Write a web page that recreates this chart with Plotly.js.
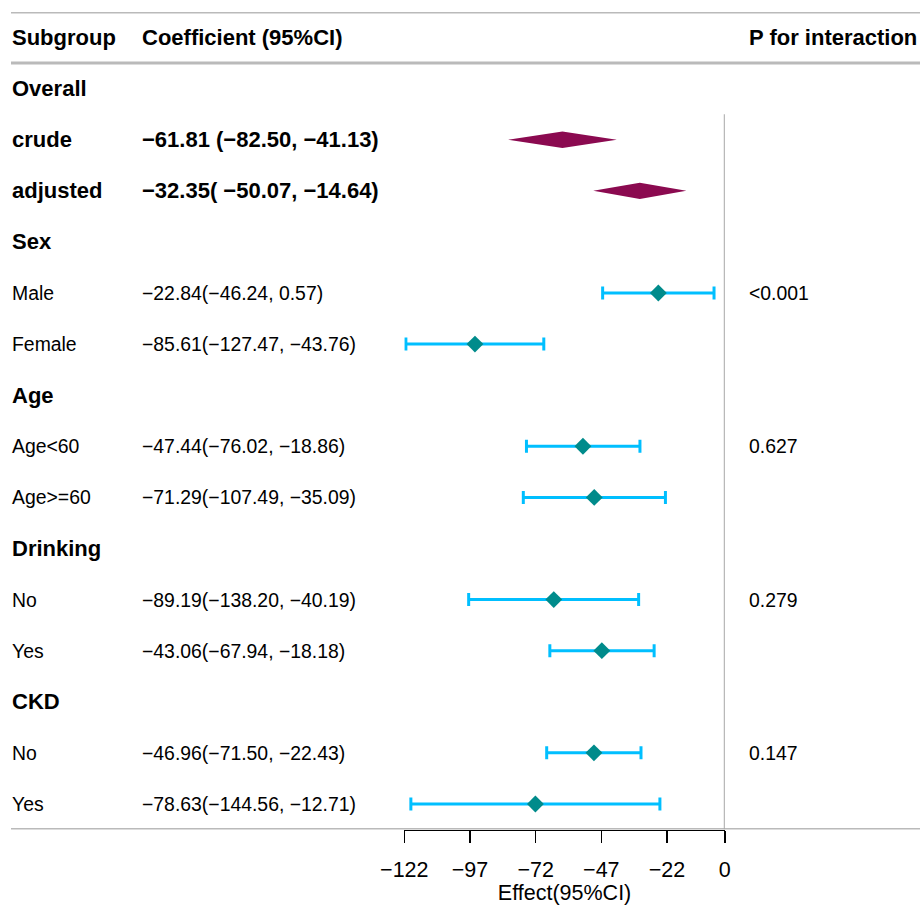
<!DOCTYPE html>
<html><head><meta charset="utf-8">
<script src="https://cdn.plot.ly/plotly-3.0.1.min.js"></script>
<style>html,body{margin:0;padding:0;background:#fff}</style>
</head><body><div id="chart" style="width:922px;height:905px"></div>
<script>
// ---- data ----
const headers = ["Subgroup", "Coefficient (95%CI)", "P for interaction"];
const labels = ["Overall", "crude", "adjusted", "Sex", "Male", "Female", "Age", "Age<60", "Age>=60", "Drinking", "No", "Yes", "CKD", "No", "Yes"];
const labelBold = [true, true, true, true, false, false, true, false, false, true, false, false, true, false, false];
const ciText = ["", "−61.81 (−82.50, −41.13)", "−32.35( −50.07, −14.64)", "", "−22.84(−46.24, 0.57)", "−85.61(−127.47, −43.76)", "", "−47.44(−76.02, −18.86)", "−71.29(−107.49, −35.09)", "", "−89.19(−138.20, −40.19)", "−43.06(−67.94, −18.18)", "", "−46.96(−71.50, −22.43)", "−78.63(−144.56, −12.71)"];
const ciBold = [false, true, true, false, false, false, false, false, false, false, false, false, false, false, false];
const pText = ["", "", "", "", "<0.001", "", "", "0.627", "", "", "0.279", "", "", "0.147", ""];

// overall estimates (drawn as diamonds)
const overallRows = [1, 2];
const overallEst = [-61.81, -32.35];
const overallLo = [-82.50, -50.07];
const overallHi = [-41.13, -14.64];

// subgroup estimates as plotted
const subRows = [4, 5, 7, 8, 10, 11, 13, 14];
const subEst = [-25.3, -95.1, -54.0, -49.7, -65.1, -46.8, -49.8, -72.1];
const subLo = [-46.5, -121.4, -75.5, -76.7, -97.5, -66.6, -67.8, -119.5];
const subHi = [-4.1, -68.9, -32.3, -22.6, -32.8, -26.9, -31.9, -24.7];

const tickVals = [-122, -97, -72, -47, -22, 0];

// ---- drawing ----
const FONT = "Liberation Sans, Arial, Helvetica, sans-serif";
const W = 922, H = 905;
const esc = s => s.replace(/&/g, "&amp;").replace(/</g, "&lt;").replace(/>/g, "&gt;");
const colX = [10 / W, 140 / W, 747 / W];
const BOLD = 22, REG = 19.4;

const traces = [];
const dh = 0.16;
overallRows.forEach((r, i) => {
  traces.push({
    type: "scatter", mode: "lines",
    x: [overallLo[i], overallEst[i], overallHi[i], overallEst[i], overallLo[i]],
    y: [r, r - dh, r, r + dh, r],
    fill: "toself", fillcolor: "#8B0A50",
    line: {width: 0, color: "#8B0A50"},
    hoverinfo: "skip", cliponaxis: false
  });
});
traces.push({
  type: "scatter", mode: "markers",
  x: subEst, y: subRows,
  error_x: {
    type: "data", symmetric: false,
    array: subHi.map((h, i) => h - subEst[i]),
    arrayminus: subLo.map((l, i) => subEst[i] - l),
    color: "#00BFFF", thickness: 3, width: 6.5
  },
  marker: {symbol: "diamond", size: 13, color: "#008B8B"},
  cliponaxis: false
});

const ann = [];
headers.forEach((h, j) => {
  ann.push({xref: "paper", yref: "y", x: colX[j], y: -1, xanchor: "left", yanchor: "middle",
    text: "<b>" + esc(h) + "</b>", showarrow: false, font: {family: FONT, size: BOLD, color: "#000"}});
});
labels.forEach((t, i) => {
  ann.push({xref: "paper", yref: "y", x: colX[0], y: i, xanchor: "left", yanchor: "middle",
    text: labelBold[i] ? "<b>" + esc(t) + "</b>" : esc(t), showarrow: false,
    font: {family: FONT, size: labelBold[i] ? BOLD : REG, color: "#000"}});
  if (ciText[i]) ann.push({xref: "paper", yref: "y", x: colX[1], y: i, xanchor: "left", yanchor: "middle",
    text: ciBold[i] ? "<b>" + esc(ciText[i]) + "</b>" : esc(ciText[i]), showarrow: false,
    font: {family: FONT, size: ciBold[i] ? BOLD : REG, color: "#000"}});
  if (pText[i]) ann.push({xref: "paper", yref: "y", x: colX[2], y: i, xanchor: "left", yanchor: "middle",
    text: esc(pText[i]), showarrow: false, font: {family: FONT, size: REG, color: "#000"}});
});

const rule = y => ({type: "line", xref: "paper", yref: "y", x0: 11 / W, x1: 920 / W, y0: y, y1: y,
  line: {color: "#bababa", width: 3}, layer: "below"});
const shapes = [rule(-1.5), rule(-0.5), rule(labels.length - 0.5),
  {type: "line", xref: "x", yref: "y", x0: 0, x1: 0, y0: 0.5, y1: labels.length - 0.5,
   line: {color: "#a8a8a8", width: 2}, layer: "below"}];

const layout = {
  width: W, height: H,
  margin: {l: 0, r: 0, t: 0, b: 0},
  paper_bgcolor: "#fff", plot_bgcolor: "rgba(0,0,0,0)",
  showlegend: false,
  font: {family: FONT, color: "#000"},
  xaxis: {
    domain: [404.3 / W, 724.8 / W], range: [-122, 0],
    tickvals: tickVals, ticks: "outside", ticklen: 12, tickwidth: 1.5, tickcolor: "#000",
    showline: true, linecolor: "#000", linewidth: 1.5,
    showgrid: false, zeroline: false,
    tickfont: {family: FONT, size: 21.5, color: "#000"},
    ticklabelstandoff: 8,
    title: {text: "Effect(95%CI)", font: {family: FONT, size: 21.5, color: "#000"}, standoff: 5},
    fixedrange: true
  },
  yaxis: {
    domain: [(H - 829.5) / H, (H - 12) / H], range: [labels.length - 0.5, -1.5],
    showgrid: false, zeroline: false, showticklabels: false, showline: false, ticks: "",
    fixedrange: true
  },
  annotations: ann,
  shapes: shapes
};

Plotly.newPlot("chart", traces, layout, {displayModeBar: false, staticPlot: true});
</script>
</body></html>
